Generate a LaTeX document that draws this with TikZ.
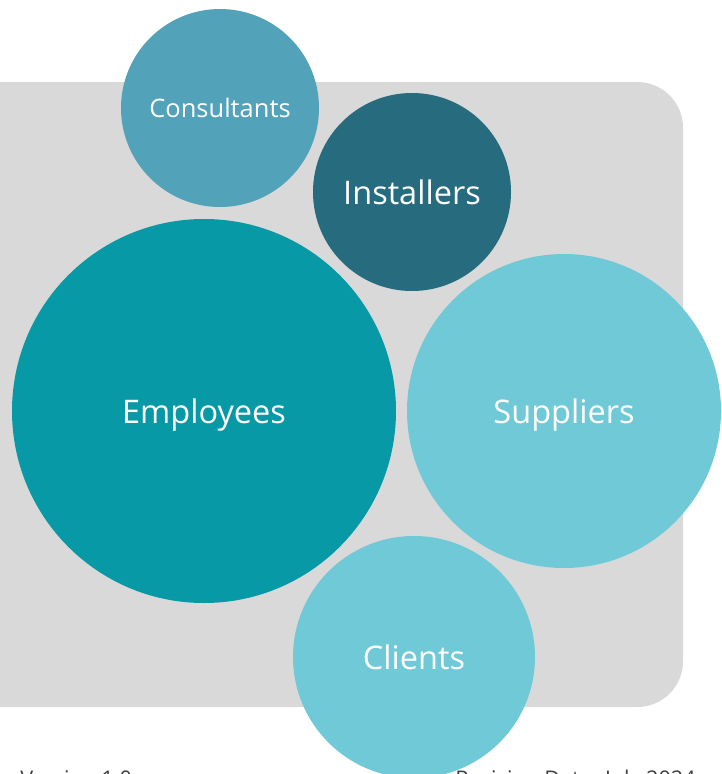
\documentclass[tikz,border=0pt]{standalone}
\usepackage{fontspec}
\setmainfont{Open Sans}
\definecolor{panelgray}{HTML}{D9D9D9}
\definecolor{consultblue}{HTML}{52A2BA}
\definecolor{installblue}{HTML}{266B7E}
\definecolor{employteal}{HTML}{0899A6}
\definecolor{lightteal}{HTML}{70C9D7}
\definecolor{footgray}{HTML}{404040}
\tikzset{
  bubble/.style={circle, inner sep=0pt, text=white, text depth=0pt},
}
\begin{document}
\begin{tikzpicture}[x=0.02cm, y=-0.02cm]
%\draw [help lines] (0,0) grid (721,774);
\useasboundingbox (0,0) rectangle (721,774);

% grey panel behind the bubbles
\fill [panelgray, rounded corners=26pt] (-80,82) rectangle (683,707);

% bubbles
\node [bubble, fill=consultblue, minimum size=198*0.02cm, font=\fontsize{14.5}{16}\selectfont] (consultants) at (220,108) {Consultants};
\node [bubble, fill=installblue, minimum size=198*0.02cm, font=\fontsize{18.5}{21}\selectfont] (installers) at (412,192) {Installers};
\node [bubble, fill=employteal, minimum size=384*0.02cm, font=\fontsize{18.5}{21}\selectfont] (employees) at (204,411) {Employees};
\node [bubble, fill=lightteal, minimum size=314*0.02cm, font=\fontsize{18.5}{21}\selectfont] (suppliers) at (564,411) {Suppliers};
\node [bubble, fill=lightteal, minimum size=242*0.02cm, font=\fontsize{18.5}{21}\selectfont] (clients) at (414,657) {Clients};

% footer, cut by the page edge
\node [anchor=base west, text=footgray, font=\fontsize{12.3}{14}\selectfont, inner sep=0pt] (version) at (20,786) {Version 1.0};
\node [anchor=base west, text=footgray, font=\fontsize{12.3}{14}\selectfont, inner sep=0pt] (revision) at (455,786) {Revision Date: July 2024};

\end{tikzpicture}
\end{document}
